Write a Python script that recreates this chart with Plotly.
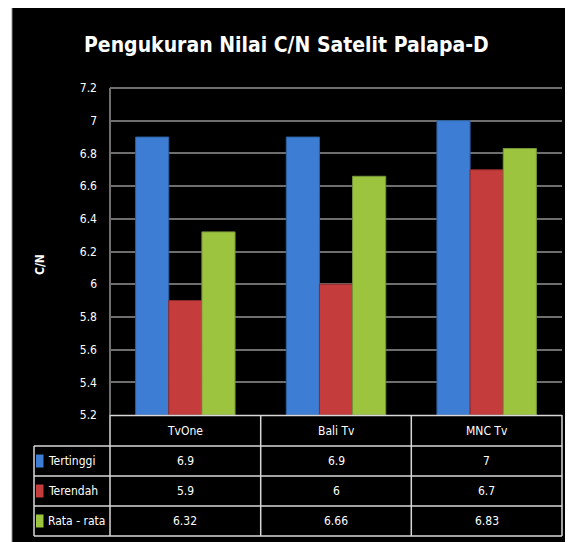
import plotly.graph_objects as go

categories = ["TvOne", "Bali Tv", "MNC Tv"]
series_names = ["Tertinggi", "Terendah", "Rata - rata"]
tertinggi = [6.9, 6.9, 7]
terendah = [5.9, 6, 6.7]
rata_rata = [6.32, 6.66, 6.83]
table_text = [["6.9", "6.9", "7"], ["5.9", "6", "6.7"], ["6.32", "6.66", "6.83"]]
series_values = [tertinggi, terendah, rata_rata]
colors = ["#3d7ed4", "#c43c3c", "#9dc43f"]
line_colors = ["#2d5f9f", "#8f2a2a", "#76953a"]

W, H = 573, 542
OFF = 8  # page body margin offset
SL, SR, ST, SB = 110, 562, 88, 415
L = SL - OFF
T = ST - OFF
R = W - (SR - OFF)
B = H - (SB - OFF)

def px(xs):
    return (xs - SL) / (SR - SL)

def py(ys):
    return (SB - ys) / (SB - ST)

FONT = "DejaVu Sans Condensed, DejaVu Sans"

fig = go.Figure()
for name, vals, c, lc in zip(series_names, series_values, colors, line_colors):
    fig.add_trace(go.Bar(x=categories, y=[v - 5.2 for v in vals], base=5.2, name=name,
                         marker=dict(color=c, line=dict(color=lc, width=1)),
                         hoverinfo="skip"))

shapes = []
shapes.append(dict(type="rect", xref="paper", yref="paper", x0=px(12), x1=px(590), y0=py(6.5), y1=py(560),
                   fillcolor="black", line=dict(color="#909090", width=1), layer="below"))
lc = "#d8d8d8"
def hline(x0, x1, y):
    shapes.append(dict(type="line", xref="paper", yref="paper", x0=px(x0), x1=px(x1), y0=py(y), y1=py(y),
                       line=dict(color=lc, width=1.5)))
def vline(x, y0, y1):
    shapes.append(dict(type="line", xref="paper", yref="paper", x0=px(x), x1=px(x), y0=py(y0), y1=py(y1),
                       line=dict(color=lc, width=1.5)))
hline(110, 562, 415.5)
hline(34, 562, 446)
hline(34, 562, 476)
hline(34, 562, 506)
hline(34, 562, 536)
for xx in [110, 260.7, 411.3, 562]:
    vline(xx, 415, 536)
vline(34, 446, 536)
row_centers = [461, 491, 521]
for rc, c in zip(row_centers, colors):
    shapes.append(dict(type="rect", xref="paper", yref="paper", x0=px(36), x1=px(43.5), y0=py(rc - 6.5), y1=py(rc + 6.5),
                       fillcolor=c, line=dict(color=c, width=0)))
shapes.append(dict(type="line", xref="paper", yref="paper", x0=0, x1=0, y0=0, y1=1, line=dict(color="#6e6e6e", width=2)))
shapes.append(dict(type="line", xref="paper", yref="paper", x0=0, x1=1, y0=1, y1=1, line=dict(color="#6e6e6e", width=2)))

annotations = []
annotations.append(dict(text="Pengukuran Nilai C/N Satelit Palapa-D", xref="paper", yref="paper",
                        x=px(286), y=py(45), showarrow=False, xanchor="center", yanchor="middle",
                        font=dict(family=FONT, size=21, color="white", weight="bold")))
annotations.append(dict(text="C/N", xref="paper", yref="paper", x=px(40), y=py(265), textangle=-90,
                        showarrow=False, xanchor="center", yanchor="middle",
                        font=dict(family=FONT, size=12, color="white", weight="bold")))
for cat in categories:
    annotations.append(dict(text=cat, xref="x", yref="paper", x=cat, y=py(431), showarrow=False,
                            xanchor="center", yanchor="middle",
                            font=dict(family=FONT, size=12, color="white")))
for name, rc, row in zip(series_names, row_centers, table_text):
    annotations.append(dict(text=name, xref="paper", yref="paper", x=px(46), y=py(rc), xanchor="left",
                            yanchor="middle", showarrow=False, font=dict(family=FONT, size=12, color="white")))
    for cat, t in zip(categories, row):
        annotations.append(dict(text=t, xref="x", yref="paper", x=cat, y=py(rc), showarrow=False,
                                xanchor="center", yanchor="middle",
                                font=dict(family=FONT, size=12, color="white")))

fig.update_layout(
    width=W, height=H, margin=dict(l=L, r=R, t=T, b=B, autoexpand=False),
    paper_bgcolor="white", plot_bgcolor="#404040",
    barmode="group", bargap=0.34, bargroupgap=0,
    showlegend=False,
    shapes=shapes, annotations=annotations,
    xaxis=dict(showticklabels=False, showgrid=False, zeroline=False, fixedrange=True),
    yaxis=dict(range=[5.2, 7.2], dtick=0.2, tick0=5.2, showgrid=True, gridcolor="#6e6e6e", gridwidth=2,
               zeroline=False, tickfont=dict(family=FONT, size=12, color="white"),
               ticklabelstandoff=12, ticks="", fixedrange=True),
)
fig.write_html("out.html")
